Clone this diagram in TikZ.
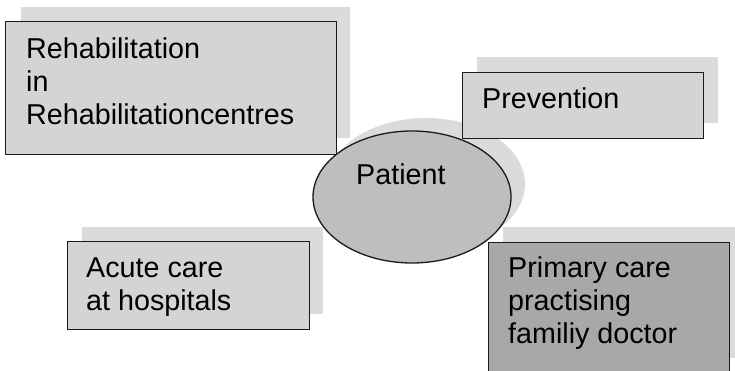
\documentclass[tikz,border=0pt]{standalone}
\usepackage{fontspec}
\setmainfont{Liberation Sans}
\usetikzlibrary{shapes.geometric}
\definecolor{boxfill}{HTML}{D4D4D4}
\definecolor{shadowfill}{HTML}{DBDBDB}
\definecolor{ellfill}{HTML}{BEBEBE}
\definecolor{darkfill}{HTML}{A8A8A8}
\definecolor{edge}{HTML}{1A1A1A}
\tikzset{
  shadowbox/.style={fill=shadowfill, draw=none, inner sep=0pt, anchor=north west},
  boxshape/.style={fill=boxfill, draw=edge, line width=1.3pt, inner sep=0pt, anchor=north west},
  boxtext/.style={inner sep=0pt, anchor=base west, font=\fontsize{28.7}{33}\selectfont},
}
\newcommand{\mylines}[1]{\vtop{\baselineskip=33pt\halign{##\hfil\cr#1\crcr}}}
\begin{document}
\begin{tikzpicture}[x=1pt,y=-1pt]
\clip (0,0) rectangle (735,370);
\fill[white] (0,0) rectangle (735,370);
% shadows
\node[shadowbox, minimum width=329pt, minimum height=131pt] (s1) at (21,7) {};
\node[shadowbox, minimum width=241pt, minimum height=66pt] (s2) at (477,57) {};
\node[shadowbox, minimum width=241pt, minimum height=87pt] (s3) at (82,227) {};
\node[shadowbox, minimum width=250pt, minimum height=131pt] (s4) at (503,227) {};
\node[ellipse, fill=shadowfill, draw=none, inner sep=0pt, minimum width=198pt, minimum height=132pt] (se) at (426,184) {};
% boxes
\node[boxshape, minimum width=331pt, minimum height=133pt] (rehab) at (5,21) {};
\node[boxshape, minimum width=241pt, minimum height=66pt] (prev) at (462,72) {};
\node[boxshape, minimum width=242pt, minimum height=88pt] (acute) at (67,241) {};
\node[boxshape, fill=darkfill, minimum width=241pt, minimum height=131pt] (prim) at (488,242) {};
\node[ellipse, fill=ellfill, draw=edge, line width=1.3pt, inner sep=0pt, minimum width=198pt, minimum height=132pt] (pat) at (412,197) {};
% texts
\node[boxtext] (trehab) at (26,58) {\mylines{Rehabilitation\cr in\cr Rehabilitationcentres}};
\node[boxtext] (tprev) at (482,108) {Prevention};
\node[boxtext] (tacute) at (86,277) {\mylines{Acute care\cr at hospitals}};
\node[boxtext] (tprim) at (508,277) {\mylines{Primary care\cr practising\cr familiy doctor}};
\node[boxtext] (tpat) at (356,184) {Patient};
\end{tikzpicture}
\end{document}
